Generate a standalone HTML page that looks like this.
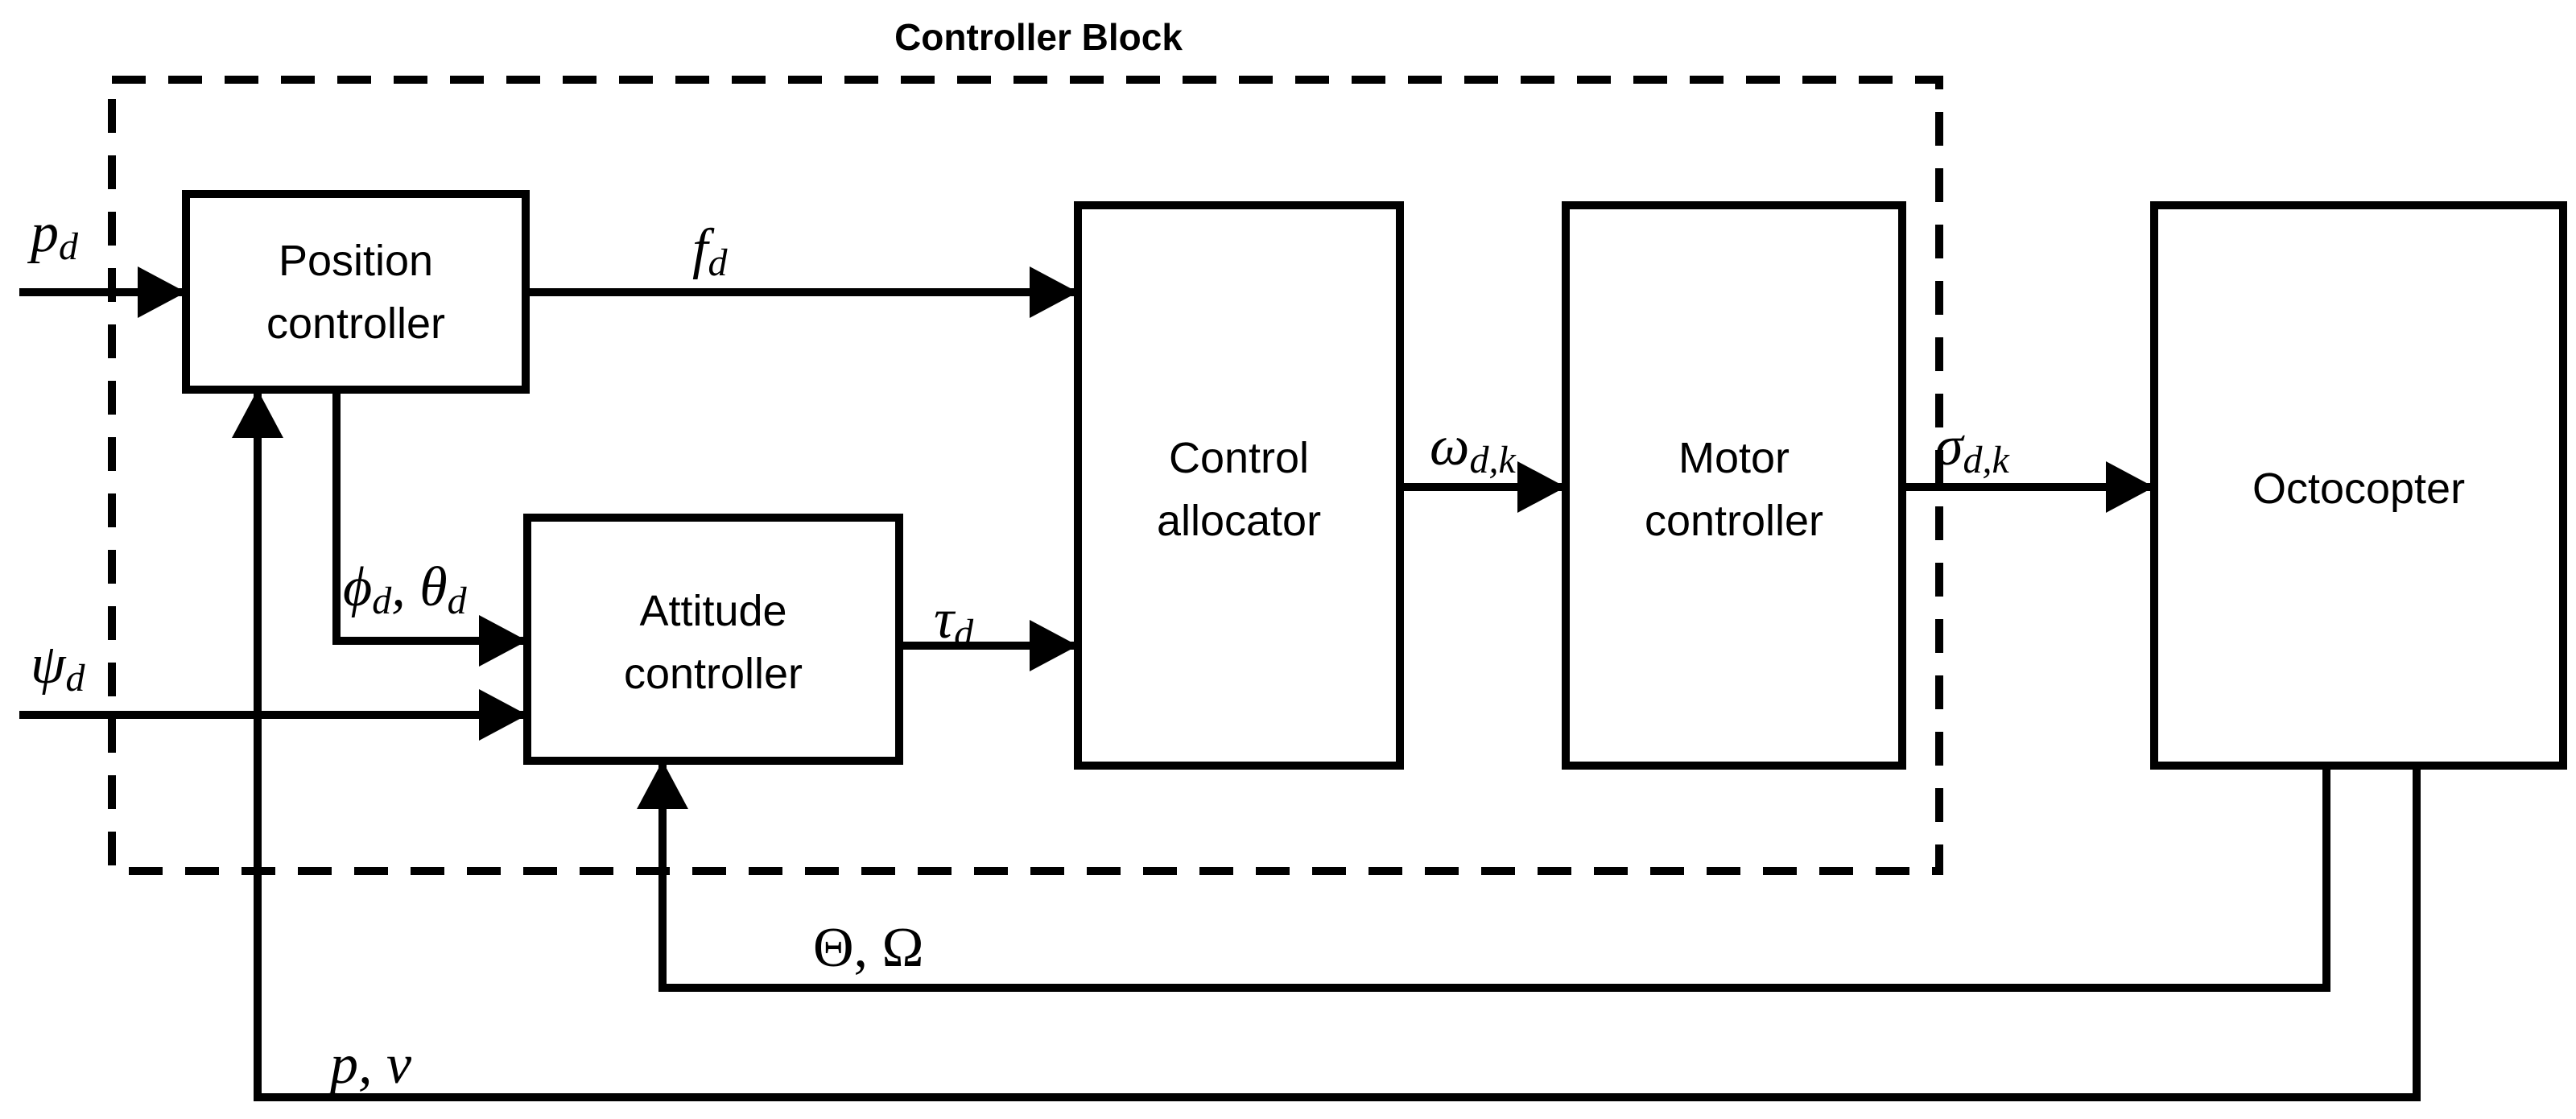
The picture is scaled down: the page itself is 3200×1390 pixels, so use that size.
<!DOCTYPE html>
<html><head><meta charset="utf-8"><style>
html,body{margin:0;padding:0;background:#fff;}
svg{display:block;}
.box{fill:#fff;stroke:#000;stroke-width:10;}
.ln{stroke:#000;stroke-width:10;fill:none;}
.lbl{font-family:"Liberation Sans",sans-serif;font-size:54px;text-anchor:middle;}
.m{font-family:"Liberation Serif",serif;font-style:italic;font-size:70px;}
.s{font-size:48px;}
</style></head><body>
<svg width="3200" height="1390" viewBox="0 0 3200 1390" xmlns="http://www.w3.org/2000/svg">
<defs>
<marker id="a" markerUnits="userSpaceOnUse" markerWidth="60" markerHeight="64" refX="60" refY="32" orient="auto">
<path d="M0,0 L60,32 L0,64 Z" fill="#000"/>
</marker>
</defs>
<text x="1290" y="62" font-family="Liberation Sans,sans-serif" font-weight="bold" font-size="46" text-anchor="middle">Controller Block</text>
<rect x="139" y="99" width="2270" height="983" fill="none" stroke="#000" stroke-width="10" stroke-dasharray="42 28"/>

<line class="ln" x1="24" y1="363" x2="231" y2="363" marker-end="url(#a)"/>
<line class="ln" x1="653" y1="363" x2="1339" y2="363" marker-end="url(#a)"/>
<polyline class="ln" points="418,484 418,796 655,796" marker-end="url(#a)"/>
<line class="ln" x1="24" y1="888" x2="655" y2="888" marker-end="url(#a)"/>
<line class="ln" x1="1117" y1="802" x2="1339" y2="802" marker-end="url(#a)"/>
<line class="ln" x1="1741" y1="605" x2="1945" y2="605" marker-end="url(#a)"/>
<line class="ln" x1="2363" y1="605" x2="2676" y2="605" marker-end="url(#a)"/>
<polyline class="ln" points="2890,951 2890,1227 823,1227 823,945" marker-end="url(#a)"/>
<polyline class="ln" points="3002,951 3002,1363 320,1363 320,484" marker-end="url(#a)"/>

<rect class="box" x="231" y="241" width="422" height="243"/>
<rect class="box" x="655" y="643" width="462" height="302"/>
<rect class="box" x="1339" y="255" width="400" height="696"/>
<rect class="box" x="1945" y="255" width="418" height="696"/>
<rect class="box" x="2676" y="255" width="508" height="696"/>

<text class="lbl" x="442" y="342">Position</text>
<text class="lbl" x="442" y="420">controller</text>
<text class="lbl" x="886" y="777">Attitude</text>
<text class="lbl" x="886" y="855">controller</text>
<text class="lbl" x="1539" y="587">Control</text>
<text class="lbl" x="1539" y="665">allocator</text>
<text class="lbl" x="2154" y="587">Motor</text>
<text class="lbl" x="2154" y="665">controller</text>
<text class="lbl" x="2930" y="625">Octocopter</text>

<text class="m" x="38" y="312">p<tspan class="s" dy="10">d</tspan></text>
<text class="m" x="860" y="332">f<tspan class="s" dy="10">d</tspan></text>
<text class="m" x="426" y="752">ϕ<tspan class="s" dy="10">d</tspan><tspan dy="-10">, θ</tspan><tspan class="s" dy="10">d</tspan></text>
<text class="m" x="38" y="848">ψ<tspan class="s" dy="10">d</tspan></text>
<text class="m" x="1160" y="792">τ<tspan class="s" dy="10">d</tspan></text>
<text class="m" x="1776" y="577">ω<tspan class="s" dy="10">d,k</tspan></text>
<text class="m" x="2404" y="577">σ<tspan class="s" dy="10">d,k</tspan></text>
<text class="m" x="1010" y="1200" style="font-style:normal">Θ, Ω</text>
<text class="m" x="410" y="1345">p, v</text>
</svg>
</body></html>
